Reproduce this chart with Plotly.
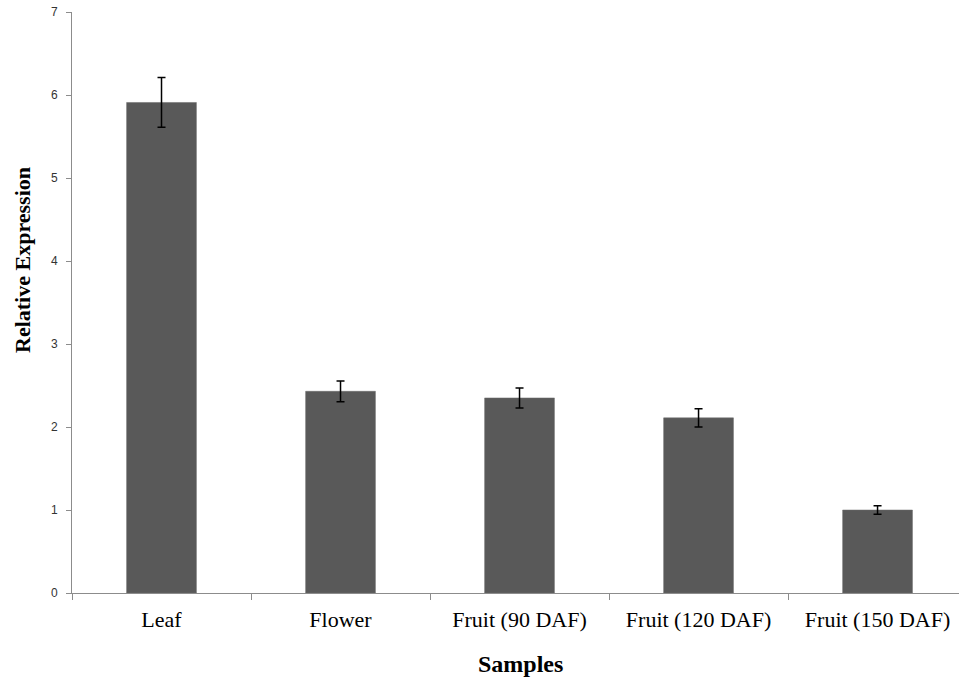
import plotly.graph_objects as go

categories = ["Leaf", "Flower", "Fruit (90 DAF)", "Fruit (120 DAF)", "Fruit (150 DAF)"]
values = [5.91, 2.43, 2.35, 2.11, 1.00]
errors = [0.30, 0.125, 0.12, 0.11, 0.05]
y_ticks = [0, 1, 2, 3, 4, 5, 6, 7]

W, H = 959, 680
L, R, T, B = 72, 0, 12, 87

fig = go.Figure()
fig.add_trace(go.Bar(
    x=categories, y=values, width=0.39,
    marker=dict(color="#595959", line=dict(color="#6a6a6a", width=0.5)),
    error_y=dict(type="data", array=errors, visible=True, color="#000000", thickness=1.5, width=4),
))

pw = W - L - R
ph = H - T - B

fig.update_layout(
    width=W, height=H,
    margin=dict(l=L, r=R, t=T, b=B),
    paper_bgcolor="white", plot_bgcolor="white",
    showlegend=False,
    xaxis=dict(
        range=[-0.5, 4.455], showgrid=False, zeroline=False,
        showline=True, linecolor="#8c8c8c", linewidth=1,
        ticks="outside", tickson="boundaries", ticklen=6, tickcolor="#8c8c8c",
        ticklabelstandoff=7,
        tickfont=dict(family="Liberation Serif", size=22, color="#000000"),
    ),
    yaxis=dict(
        range=[0, 7], tickvals=y_ticks, showgrid=False, zeroline=False,
        showline=True, linecolor="#8c8c8c", linewidth=1,
        ticks="outside", ticklen=5, tickcolor="#8c8c8c",
        ticklabelstandoff=6,
        tickfont=dict(family="Liberation Sans", size=12, color="#333333"),
    ),
    annotations=[
        dict(text="<b>Samples</b>", xref="paper", yref="paper",
             x=(520 - L) / pw, y=(H - B - 664) / ph, xanchor="center", yanchor="middle",
             showarrow=False, font=dict(family="Liberation Serif", size=24, color="#000000")),
        dict(text="<b>Relative Expression</b>", textangle=-90, xref="paper", yref="paper",
             x=(22 - L) / pw, y=(H - B - 260) / ph, xanchor="center", yanchor="middle",
             showarrow=False, font=dict(family="Liberation Serif", size=22, color="#000000")),
    ],
)

fig.write_html("out.html", config={"displayModeBar": False},
               post_script="document.body.style.margin='0';document.body.style.overflow='hidden';")
